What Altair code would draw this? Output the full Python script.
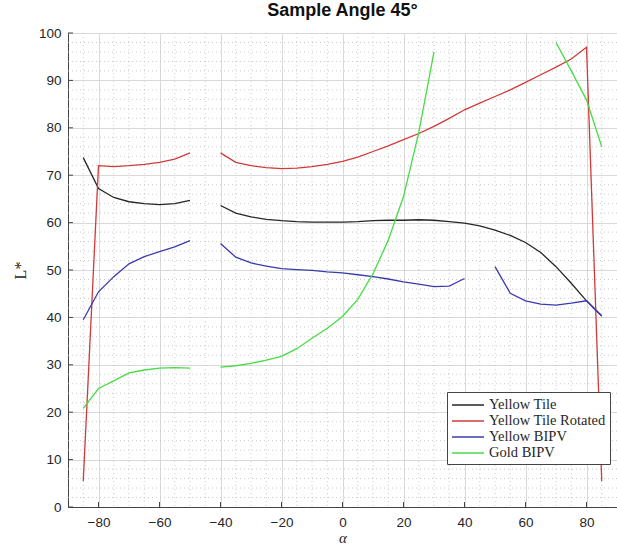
import altair as alt
import pandas as pd

series_names = ["Yellow Tile", "Yellow Tile Rotated", "Yellow BIPV", "Gold BIPV"]
series_colors = ["#262626", "#d03a3a", "#3a3ab0", "#46dc46"]

# angle lists for each segment
ang_a = [-85, -80, -75, -70, -65, -60, -55, -50]
ang_b = [-40, -35, -30, -25, -20, -15, -10, -5, 0, 5, 10, 15, 20, 25, 30, 35, 40,
         45, 50, 55, 60, 65, 70, 75, 80, 85]
ang_bipv_mid = [-40, -35, -30, -25, -20, -15, -10, -5, 0, 5, 10, 15, 20, 25, 30, 35, 40]
ang_bipv_right = [50, 55, 60, 65, 70, 75, 80, 85]
ang_gold_mid = [-40, -35, -30, -25, -20, -15, -10, -5, 0, 5, 10, 15, 20, 25, 30]
ang_gold_right = [70, 75, 80, 85]

tile_a = [73.7, 67.2, 65.3, 64.4, 64.0, 63.8, 64.0, 64.7]
tile_b = [63.6, 62.0, 61.2, 60.7, 60.4, 60.2, 60.1, 60.1, 60.1, 60.2, 60.4, 60.5, 60.5,
          60.6, 60.5, 60.2, 59.9, 59.3, 58.4, 57.3, 55.8, 53.7, 50.7, 47.2, 43.5, 40.3]

rot_a = [5.5, 72.0, 71.8, 72.0, 72.3, 72.7, 73.4, 74.7]
rot_b = [74.7, 72.7, 72.0, 71.6, 71.4, 71.5, 71.8, 72.3, 72.9, 73.8, 75.0, 76.2, 77.5,
         78.8, 80.3, 82.0, 83.8, 85.2, 86.6, 88.0, 89.6, 91.2, 92.8, 94.5, 97.0, 5.5]

bipv_a = [39.5, 45.4, 48.6, 51.3, 52.8, 53.9, 54.9, 56.2]
bipv_mid = [55.6, 52.7, 51.5, 50.8, 50.3, 50.1, 49.9, 49.6, 49.4, 49.0, 48.6, 48.1, 47.5,
            47.0, 46.5, 46.6, 48.2]
bipv_right = [50.7, 45.1, 43.5, 42.8, 42.6, 43.0, 43.5, 40.3]

gold_a = [20.8, 25.0, 26.6, 28.3, 28.9, 29.3, 29.4, 29.3]
gold_mid = [29.5, 29.8, 30.3, 31.0, 31.8, 33.4, 35.6, 37.7, 40.2, 43.8, 49.2, 56.3, 65.5,
            79.0, 96.0]
gold_right = [98.0, 92.0, 85.9, 76.0]

x_ticks = [-80, -60, -40, -20, 0, 20, 40, 60, 80]
y_ticks = [0, 10, 20, 30, 40, 50, 60, 70, 80, 90, 100]
x_minor = [v for v in range(-85, 90, 5) if v % 20 != 0]
y_minor = [v for v in range(2, 100, 2) if v % 10 != 0]

segments = [
    ("Yellow Tile", "t1", ang_a, tile_a),
    ("Yellow Tile", "t2", ang_b, tile_b),
    ("Yellow Tile Rotated", "r1", ang_a, rot_a),
    ("Yellow Tile Rotated", "r2", ang_b, rot_b),
    ("Yellow BIPV", "b1", ang_a, bipv_a),
    ("Yellow BIPV", "b2", ang_bipv_mid, bipv_mid),
    ("Yellow BIPV", "b3", ang_bipv_right, bipv_right),
    ("Gold BIPV", "g1", ang_a, gold_a),
    ("Gold BIPV", "g2", ang_gold_mid, gold_mid),
    ("Gold BIPV", "g3", ang_gold_right, gold_right),
]
rows = []
for name, seg, xs, ys in segments:
    for i, (a, v) in enumerate(zip(xs, ys)):
        rows.append({"series": name, "seg": seg, "order": i, "alpha": a, "L": v})
df = pd.DataFrame(rows)

W, H = 549, 474
xscale = alt.Scale(domain=[-90, 90], nice=False, zero=False)
yscale = alt.Scale(domain=[0, 100], nice=False, zero=False)

x_axis = alt.Axis(values=x_ticks, title="α", grid=True, gridColor="#d9d9d9",
                  gridWidth=1, ticks=False, domainColor="#444444",
                  labelFont="Liberation Sans", labelFontSize=13.5,
                  labelColor="#262626", labelPadding=8,
                  titleFont="Liberation Serif", titleFontStyle="italic",
                  titleFontWeight="normal", titleFontSize=15,
                  titleColor="#262626", titlePadding=2)
y_axis = alt.Axis(values=y_ticks, title="L*", grid=True, gridColor="#d9d9d9",
                  gridWidth=1, ticks=False, domainColor="#444444",
                  labelFont="Liberation Sans", labelFontSize=13.5,
                  labelColor="#262626", labelPadding=7,
                  titleFont="Liberation Serif", titleFontWeight="normal",
                  titleFontSize=16, titleColor="#262626", titlePadding=10)

minor_x = alt.Chart(pd.DataFrame({"v": x_minor})).mark_rule(
    color="#bdbdbd", strokeDash=[1, 3], strokeWidth=0.8
).encode(x=alt.X("v:Q", scale=xscale, axis=x_axis))

minor_y = alt.Chart(pd.DataFrame({"v": y_minor})).mark_rule(
    color="#bdbdbd", strokeDash=[1, 3], strokeWidth=0.8
).encode(y=alt.Y("v:Q", scale=yscale, axis=y_axis))

tick_x = alt.Chart(pd.DataFrame({"v": x_ticks})).mark_rule(
    color="#444444", strokeWidth=1
).encode(x=alt.X("v:Q", scale=xscale, axis=x_axis), y=alt.value(H), y2=alt.value(H - 5))

tick_y = alt.Chart(pd.DataFrame({"v": y_ticks})).mark_rule(
    color="#444444", strokeWidth=1
).encode(y=alt.Y("v:Q", scale=yscale, axis=y_axis), x=alt.value(0), x2=alt.value(5))

lines = alt.Chart(df).mark_line(strokeWidth=1.3).encode(
    x=alt.X("alpha:Q", scale=xscale, axis=x_axis),
    y=alt.Y("L:Q", scale=yscale, axis=y_axis),
    color=alt.Color("series:N",
                    scale=alt.Scale(domain=series_names, range=series_colors),
                    sort=series_names,
                    legend=alt.Legend(orient="none", legendX=379, legendY=359,
                                      title=None, fillColor="white",
                                      strokeColor="#444444", padding=4,
                                      labelFont="Liberation Serif", labelFontSize=14.5,
                                      labelColor="#262626", labelOffset=12,
                                      symbolType="M-2,0H2", symbolSize=256,
                                      symbolOffset=8, symbolStrokeWidth=1.5,
                                      rowPadding=0)),
    detail="seg:N",
    order="order:Q",
)

chart = alt.layer(minor_x, minor_y, lines, tick_x, tick_y).properties(
    width=W, height=H,
    title=alt.TitleParams("Sample Angle 45°", font="Liberation Sans", fontSize=18,
                          fontWeight="bold", color="#111111", anchor="middle", offset=6),
    autosize=alt.AutoSizeParams(type="none"),
    padding={"left": 68, "top": 33, "right": 0, "bottom": 39},
).configure_view(stroke="#d0d0d0").configure(background="white")

chart.save("out.html", embed_options={"renderer": "svg", "actions": False})
